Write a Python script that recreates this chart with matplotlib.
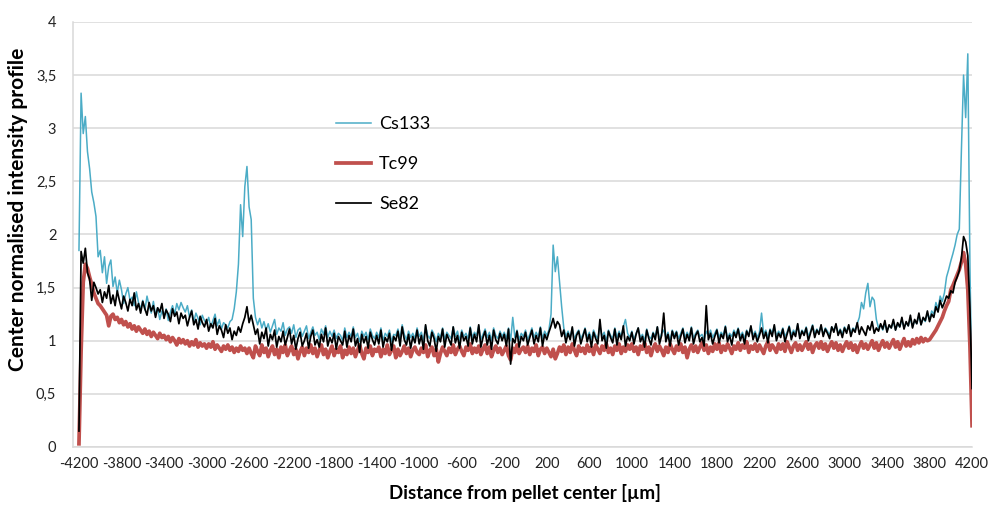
"""Radial intensity profiles across a fuel pellet (Cs133, Tc99, Se82)."""

import numpy as np
import matplotlib

matplotlib.use("Agg")
import matplotlib.pyplot as plt
import matplotlib.ticker as mticker

plt.rcParams["font.family"] = ["Lato", "DejaVu Sans"]

# ---------------------------------------------------------------------------
# Profile data, one point every 20 µm from -4200 to 4200
# ---------------------------------------------------------------------------

distance_um = np.arange(-4200, 4201, 20)

cs133 = [
    1.85, 3.33, 2.95, 3.11, 2.78, 2.62, 2.40, 2.30, 2.17, 1.79,
    1.85, 1.64, 1.79, 1.54, 1.70, 1.76, 1.51, 1.60, 1.45, 1.57,
    1.48, 1.35, 1.44, 1.50, 1.38, 1.41, 1.33, 1.46, 1.36, 1.30,
    1.38, 1.29, 1.42, 1.33, 1.26, 1.37, 1.24, 1.31, 1.20, 1.28,
    1.23, 1.30, 1.19, 1.27, 1.33, 1.25, 1.35, 1.29, 1.36, 1.31,
    1.27, 1.33, 1.22, 1.29, 1.18, 1.26, 1.21, 1.15, 1.24, 1.19,
    1.16, 1.22, 1.13, 1.19, 1.25, 1.14, 1.20, 1.11, 1.17, 1.15,
    1.12, 1.18, 1.20, 1.30, 1.46, 1.72, 2.28, 1.98, 2.45, 2.64,
    2.26, 2.14, 1.40, 1.22, 1.15, 1.21, 1.12, 1.18, 1.10, 1.16,
    1.08, 1.14, 1.20, 1.06, 1.12, 1.09, 1.17, 1.05, 1.11, 1.13,
    1.07, 1.15, 1.03, 1.10, 1.12, 1.04, 1.09, 1.14, 1.02, 1.08,
    1.13, 1.05, 1.08, 1.01, 1.11, 1.06, 1.14, 1.03, 1.09, 1.04,
    1.10, 1.02, 1.07, 1.05, 1.00, 1.12, 1.03, 1.08, 1.04, 1.13,
    1.03, 1.07, 0.99, 1.09, 1.04, 1.08, 1.01, 1.11, 1.05, 1.02,
    1.08, 1.03, 1.12, 1.00, 1.07, 1.04, 1.10, 0.99, 1.06, 1.05,
    1.11, 1.02, 1.15, 1.06, 1.01, 1.09, 1.03, 1.07, 1.02, 1.12,
    1.04, 1.08, 1.00, 1.14, 1.05, 1.02, 1.10, 1.06, 0.99, 1.07,
    1.03, 1.12, 1.01, 1.08, 1.05, 1.02, 1.13, 1.04, 1.09, 1.00,
    1.10, 1.04, 1.07, 1.02, 1.13, 1.03, 1.08, 1.05, 1.14, 1.01,
    1.06, 1.11, 1.03, 1.08, 1.00, 1.12, 1.05, 1.02, 1.09, 1.04,
    1.08, 1.02, 1.12, 1.00, 1.22, 1.03, 1.10, 1.01, 1.07, 1.04,
    1.10, 1.01, 1.06, 1.12, 1.03, 1.08, 1.04, 1.13, 1.02, 1.09,
    1.05, 1.10, 1.25, 1.90, 1.65, 1.79, 1.55, 1.32, 1.12, 1.04,
    1.09, 1.03, 1.12, 1.01, 1.07, 1.10, 1.02, 1.06, 1.12, 1.03,
    1.08, 1.01, 1.10, 1.05, 1.02, 1.14, 1.04, 1.08, 1.00, 1.10,
    1.05, 1.02, 1.12, 1.03, 1.09, 1.04, 1.13, 1.20, 1.07, 1.03,
    1.09, 1.01, 1.07, 1.12, 1.03, 1.06, 1.00, 1.11, 1.04, 1.02,
    1.08, 1.04, 1.13, 1.01, 1.07, 1.10, 1.03, 1.08, 1.00, 1.10,
    1.05, 1.09, 1.02, 1.07, 1.12, 1.03, 1.08, 1.04, 1.13, 1.02,
    1.07, 1.10, 1.04, 1.06, 1.01, 1.09, 1.05, 1.10, 1.03, 1.07,
    1.11, 1.03, 1.08, 1.05, 1.14, 1.02, 1.07, 1.04, 1.10, 1.06,
    1.12, 1.04, 1.08, 1.02, 1.10, 1.06, 1.13, 1.05, 1.09, 1.03,
    1.08, 1.26, 1.06, 1.10, 1.03, 1.11, 1.07, 1.14, 1.04, 1.09,
    1.06, 1.12, 1.04, 1.08, 1.14, 1.05, 1.10, 1.07, 1.15, 1.04,
    1.10, 1.07, 1.13, 1.04, 1.09, 1.15, 1.06, 1.11, 1.08, 1.14,
    1.06, 1.12, 1.09, 1.05, 1.13, 1.10, 1.15, 1.07, 1.11, 1.06,
    1.13, 1.09, 1.14, 1.07, 1.12, 1.10, 1.16, 1.22, 1.36, 1.30,
    1.45, 1.54, 1.32, 1.41, 1.38, 1.20, 1.12, 1.15, 1.10, 1.16,
    1.09, 1.14, 1.12, 1.18, 1.10, 1.16, 1.13, 1.20, 1.12, 1.17,
    1.14, 1.21, 1.13, 1.19, 1.16, 1.24, 1.15, 1.21, 1.18, 1.26,
    1.20, 1.28, 1.25, 1.36, 1.30, 1.42, 1.37, 1.45, 1.60, 1.67,
    1.75, 1.82, 1.90, 2.00, 2.05, 2.80, 3.50, 3.10, 3.70, 1.70,
    0.45,
]

tc99 = [
    0.03, 0.90, 1.55, 1.72, 1.68, 1.60, 1.53, 1.45, 1.40, 1.35,
    1.33, 1.30, 1.27, 1.24, 1.14, 1.23, 1.25, 1.20, 1.22, 1.17,
    1.20, 1.15, 1.18, 1.13, 1.16, 1.11, 1.14, 1.09, 1.13, 1.10,
    1.07, 1.11, 1.06, 1.09, 1.04, 1.08, 1.05, 1.02, 1.07, 1.03,
    1.05, 1.01, 1.04, 0.99, 1.03, 1.00, 0.96, 1.02, 0.98, 1.01,
    0.97, 1.00, 0.95, 0.99, 0.96, 1.01, 0.94, 0.98, 0.95, 0.97,
    0.93, 0.97, 0.94, 0.99, 0.92, 0.96, 0.93, 0.90, 0.95, 0.92,
    0.96, 0.91, 0.94, 0.89, 0.93, 0.90, 0.95, 0.91, 0.93, 0.88,
    0.93, 0.88, 0.84, 0.95, 0.90, 0.86, 0.96, 0.89, 0.93, 0.85,
    0.91, 0.95, 0.87, 0.92, 0.84, 0.94, 0.89, 0.96, 0.86, 0.91,
    0.95, 0.87, 0.92, 0.83, 0.90, 0.94, 0.86, 0.93, 0.89, 0.96,
    0.88, 0.93, 0.85, 0.91, 0.96, 0.87, 0.92, 0.84, 0.90, 0.95,
    0.86, 0.92, 0.89, 0.95, 0.84, 0.91, 0.87, 0.94, 0.88, 0.93,
    0.85, 0.91, 0.96, 0.88, 0.83, 0.93, 0.89, 0.95, 0.86, 0.92,
    0.90, 0.94, 0.85, 0.92, 0.88, 0.96, 0.87, 0.91, 0.95, 0.84,
    0.92, 0.86, 0.90, 0.95, 0.88, 0.93, 0.85, 0.91, 0.94, 0.89,
    0.87, 0.93, 0.89, 0.96, 0.85, 0.91, 0.94, 0.86, 0.92, 0.80,
    0.88, 0.94, 0.90, 0.86, 0.93, 0.89, 0.96, 0.87, 0.92, 0.95,
    0.90, 0.86, 0.94, 0.91, 0.97, 0.88, 0.93, 0.89, 0.95, 0.87,
    0.92, 0.96, 0.88, 0.94, 0.85, 0.91, 0.95, 0.89, 0.93, 0.87,
    0.91, 0.95, 0.86, 0.82, 0.93, 0.89, 0.96, 0.88, 0.92, 0.94,
    0.89, 0.95, 0.87, 0.93, 0.90, 0.96, 0.86, 0.92, 0.94, 0.88,
    0.93, 0.89, 0.85, 0.92, 0.83, 0.88, 0.94, 0.90, 0.96, 0.87,
    0.94, 0.89, 0.97, 0.91, 0.86, 0.95, 0.90, 0.93, 0.88, 0.96,
    0.90, 0.94, 0.87, 0.96, 0.92, 0.88, 0.95, 0.91, 0.97, 0.89,
    0.93, 0.87, 0.95, 0.91, 0.97, 0.88, 0.94, 0.90, 0.96, 0.92,
    0.97, 0.90, 0.94, 0.87, 0.95, 0.92, 0.98, 0.89, 0.94, 0.86,
    0.93, 0.97, 0.90, 0.95, 0.91, 0.86, 0.94, 0.89, 0.97, 0.92,
    0.88, 0.95, 0.91, 0.97, 0.89, 0.94, 0.84, 0.92, 0.96, 0.90,
    0.95, 0.89, 0.94, 0.98, 0.91, 0.96, 0.88, 0.94, 0.90, 0.97,
    0.92, 0.98, 0.89, 0.95, 0.91, 0.97, 0.93, 0.88, 0.95, 0.92,
    0.98, 0.91, 0.96, 0.93, 0.99, 0.89, 0.95, 0.92, 0.97, 0.90,
    0.96, 0.92, 0.88, 0.95, 0.99, 0.91, 0.96, 0.93, 0.89, 0.97,
    0.92, 0.97, 0.90, 0.99, 0.94, 0.89, 0.95, 0.98, 0.91, 0.96,
    0.91, 0.95, 0.99, 0.92, 0.97, 0.89, 0.95, 0.98, 0.93, 0.99,
    0.92, 0.97, 0.90, 0.95, 0.99, 0.93, 0.98, 0.91, 0.96, 0.90,
    0.95, 0.99, 0.93, 0.98, 0.91, 0.96, 0.89, 0.95, 0.99, 0.93,
    0.97, 0.92, 0.96, 1.00, 0.93, 0.98, 0.91, 0.96, 1.00, 0.94,
    0.98, 0.93, 0.97, 1.01, 0.94, 0.99, 0.92, 0.97, 1.02, 0.95,
    0.99, 0.95, 1.01, 0.97, 1.02, 0.98, 1.03, 0.99, 1.02, 1.00,
    1.01, 1.04, 1.07, 1.10, 1.14, 1.18, 1.22, 1.28, 1.33, 1.37,
    1.48, 1.52, 1.57, 1.62, 1.67, 1.74, 1.83, 1.72, 1.48, 0.95,
    0.20,
]

se82 = [
    0.15, 1.84, 1.73, 1.87, 1.64, 1.58, 1.38, 1.55, 1.50, 1.44,
    1.48, 1.36, 1.46, 1.40, 1.52, 1.35, 1.43, 1.33, 1.47, 1.38,
    1.30, 1.42, 1.36, 1.28, 1.39, 1.33, 1.45, 1.29, 1.35, 1.26,
    1.37, 1.30, 1.24, 1.36, 1.28, 1.33, 1.22, 1.31, 1.27, 1.35,
    1.21, 1.29, 1.25, 1.18, 1.30, 1.23, 1.27, 1.16, 1.26, 1.21,
    1.24, 1.14, 1.22, 1.28, 1.15, 1.20, 1.11, 1.23, 1.17, 1.13,
    1.20, 1.09, 1.16, 1.12, 1.21, 1.06, 1.14, 1.10, 1.03, 1.15,
    1.07, 1.12, 1.01, 1.09, 1.05, 1.13, 1.08, 1.16, 1.22, 1.32,
    1.17, 1.24, 1.15, 1.06, 1.11, 0.97, 1.08, 1.02, 1.12, 0.95,
    1.06, 1.01, 1.10, 0.94, 1.04, 0.99, 1.09, 0.96, 1.03, 1.11,
    0.97, 1.05, 0.92, 1.02, 1.08, 0.95, 1.00, 1.07, 0.93, 1.04,
    1.10, 0.96, 1.01, 0.94, 1.06, 0.99, 1.12, 0.95, 1.03, 0.98,
    1.07, 0.92, 1.04, 1.00, 0.96, 1.09, 0.94, 1.05, 0.99, 1.11,
    0.95, 1.02, 0.89, 1.06, 0.98, 1.04, 0.93, 1.08, 1.01, 0.96,
    1.05, 0.97, 1.10, 0.94, 1.03, 0.99, 1.07, 0.91, 1.04, 1.00,
    1.09, 0.95, 1.13, 1.01, 0.96, 1.06, 0.93, 1.04, 0.98, 1.10,
    0.97, 1.05, 0.92, 1.15, 1.00, 0.95, 1.08, 1.02, 0.90, 1.04,
    0.99, 1.11, 0.94, 1.06, 1.01, 0.96, 1.13, 0.98, 1.05, 0.93,
    1.08, 1.00, 1.04, 0.95, 1.12, 0.97, 1.06, 0.99, 1.15, 0.94,
    1.03, 1.09, 0.96, 1.05, 0.92, 1.10, 1.01, 0.97, 1.07, 1.00,
    1.06, 0.95, 1.11, 0.78, 1.02, 0.98, 1.09, 0.94, 1.04, 1.00,
    1.08, 0.96, 1.03, 1.10, 0.97, 1.05, 0.99, 1.12, 0.95, 1.06,
    1.01, 1.08, 1.14, 1.21, 1.12, 1.18, 1.15, 1.04, 1.10, 0.98,
    1.07, 1.01, 1.13, 0.95, 1.05, 1.09, 0.97, 1.04, 1.11, 0.99,
    1.06, 0.94, 1.08, 1.02, 0.97, 1.20, 1.00, 1.05, 0.93, 1.09,
    1.03, 0.98, 1.11, 0.96, 1.07, 1.01, 1.14, 0.95, 1.04, 1.00,
    1.08, 0.97, 1.06, 1.12, 0.99, 1.04, 0.94, 1.10, 1.02, 0.96,
    1.07, 1.01, 1.13, 0.97, 1.05, 1.26, 0.99, 1.06, 0.95, 1.09,
    1.02, 1.08, 0.96, 1.04, 1.11, 0.98, 1.06, 1.00, 1.12, 0.97,
    1.05, 1.09, 0.99, 1.03, 0.95, 1.33, 1.01, 1.07, 0.97, 1.04,
    1.10, 0.98, 1.06, 1.02, 1.13, 0.99, 1.05, 0.96, 1.08, 1.03,
    1.11, 1.00, 1.06, 0.97, 1.09, 1.04, 1.14, 1.01, 1.07, 0.99,
    1.05, 1.12, 1.02, 1.08, 0.98, 1.10, 1.04, 1.15, 1.00, 1.07,
    1.03, 1.11, 0.99, 1.06, 1.13, 1.01, 1.08, 1.04, 1.16, 1.02,
    1.09, 1.05, 1.12, 1.00, 1.07, 1.14, 1.03, 1.10, 1.06, 1.15,
    1.04, 1.11, 1.07, 1.02, 1.13, 1.08, 1.16, 1.05, 1.10, 1.03,
    1.12, 1.07, 1.15, 1.04, 1.11, 1.08, 1.17, 1.06, 1.13, 1.09,
    1.05, 1.14, 1.10, 1.18, 1.07, 1.12, 1.09, 1.16, 1.11, 1.19,
    1.08, 1.15, 1.12, 1.20, 1.10, 1.17, 1.13, 1.22, 1.11, 1.18,
    1.14, 1.24, 1.12, 1.20, 1.16, 1.26, 1.15, 1.22, 1.19, 1.28,
    1.18, 1.25, 1.22, 1.32, 1.27, 1.38, 1.31, 1.36, 1.42, 1.40,
    1.47, 1.45, 1.55, 1.60, 1.66, 1.78, 1.98, 1.93, 1.80, 1.30,
    0.55,
]

series_names = ["Cs133", "Tc99", "Se82"]
series_colors = ["#4bacc6", "#c0504d", "#000000"]
series_widths = [1.1, 2.7, 1.25]

x_ticks = np.arange(-4200, 4201, 400)
y_ticks = np.arange(0, 4.01, 0.5)

# ---------------------------------------------------------------------------
# Figure
# ---------------------------------------------------------------------------

fig = plt.figure(figsize=(9.92, 5.05), dpi=100, facecolor="white")
ax = fig.add_axes([0.0736, 0.1149, 0.9063, 0.8416])

for vals, name, col, lw in zip([cs133, tc99, se82], series_names,
                               series_colors, series_widths):
    ax.plot(distance_um, vals, color=col, linewidth=lw, label=name,
            solid_joinstyle="round")

ax.set_xlim(-4256, 4200)
ax.set_ylim(0, 4)
ax.set_xticks(x_ticks)
ax.set_yticks(y_ticks)
ax.yaxis.set_major_formatter(
    mticker.FuncFormatter(lambda v, _: f"{v:g}".replace(".", ",")))
ax.xaxis.set_major_formatter(mticker.FuncFormatter(lambda v, _: f"{v:.0f}"))

ax.grid(True, axis="y", color="#d9d9d9", linewidth=1.1)
ax.set_axisbelow(True)
for side in ("top", "right"):
    ax.spines[side].set_visible(False)
for side in ("left", "bottom"):
    ax.spines[side].set_color("#d9d9d9")
    ax.spines[side].set_linewidth(1.1)
ax.tick_params(length=0, labelsize=10.5, colors="#222222", pad=7)
ax.tick_params(axis="y", pad=12)

ax.set_xlabel("Distance from pellet center [µm]", fontsize=13.5,
              fontweight="bold")
ax.set_ylabel("Center normalised intensity profile", fontsize=15,
              fontweight="bold")
ax.xaxis.set_label_coords(0.503, -0.087)
ax.yaxis.set_label_coords(-0.050, 0.56)

leg = ax.legend(loc="upper left", bbox_to_anchor=(0.274, 0.816),
                frameon=False, fontsize=13, handlelength=1.95,
                handletextpad=0.45, labelspacing=1.32)

fig.savefig("out.png", dpi=100, facecolor="white")
plt.close(fig)
